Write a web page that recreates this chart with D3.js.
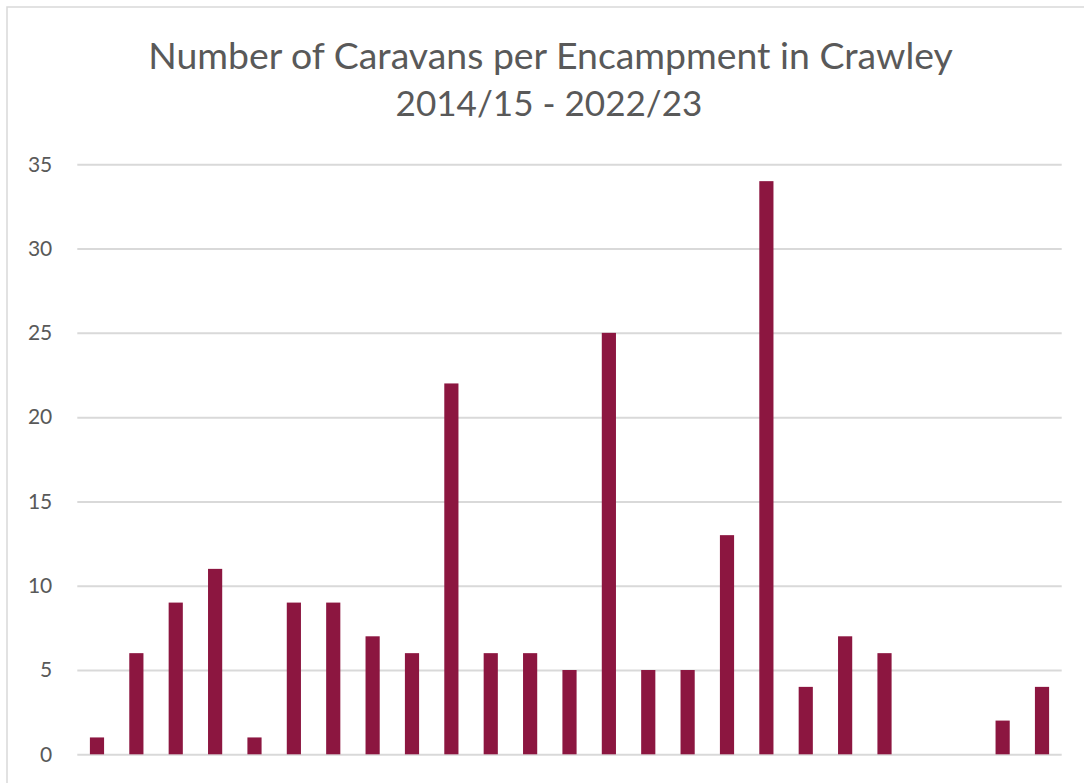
<!DOCTYPE html>
<html>
<head>
<meta charset="utf-8">
<script src="https://cdn.jsdelivr.net/npm/d3@7"></script>
<style>
  body { margin: 0; background: #fff; }
  svg { display: block; }
</style>
</head>
<body>
<div id="chart"></div>
<script>
// one bar per encampment, in order
let encampments = d3.range(1, 26).map(i => "E" + i);
let caravans = [1, 6, 9, 11, 1, 9, 9, 7, 6, 22, 6, 6, 5, 25, 5, 5, 13, 34, 4, 7, 6, 0, 0, 2, 4];
let yTicks = [0, 5, 10, 15, 20, 25, 30, 35];
let titleLines = ["Number of Caravans per Encampment in Crawley", "2014/15 - 2022/23"];

let width = 1084,
    height = 783,
    margin = {top: 164.3, right: 22.3, bottom: 28.7, left: 77.3};

let svg = d3.select("#chart")
    .append("svg")
    .attr("width", width)
    .attr("height", height);

// chart frame
svg.append("rect")
    .attr("x", 7).attr("y", 7)
    .attr("width", width + 20).attr("height", height + 20)
    .attr("fill", "none")
    .attr("stroke", "#d9d9d9")
    .attr("stroke-width", 1.5);

let x = d3.scaleBand()
    .domain(encampments)
    .range([margin.left, width - margin.right])
    .paddingInner(0.64)
    .paddingOuter(0.32);

let y = d3.scaleLinear()
    .domain([0, 35])
    .range([height - margin.bottom, margin.top]);

// gridlines + labels
let yAxis = d3.axisLeft(y)
    .tickValues(yTicks)
    .tickSize(-(width - margin.left - margin.right))
    .tickPadding(25);

let ga = svg.append("g")
    .attr("transform", "translate(" + margin.left + ",0)")
    .call(yAxis);
ga.select(".domain").remove();
ga.selectAll(".tick line")
    .attr("stroke", "#d9d9d9")
    .attr("stroke-width", 2);
ga.selectAll(".tick text")
    .attr("fill", "#595959")
    .style("font-family", "Lato, 'Open Sans', sans-serif")
    .style("font-size", "21px");

svg.append("g")
    .selectAll("rect")
    .data(caravans)
    .enter().append("rect")
    .attr("x", (d, i) => x(encampments[i]))
    .attr("y", d => y(d))
    .attr("width", x.bandwidth())
    .attr("height", d => y(0) - y(d))
    .attr("fill", "#8c1640");

// title, sized to match the original width
let targets = [805, 307];
let baselines = [69, 116];
titleLines.forEach((t, i) => {
    let tx = svg.append("text")
        .attr("x", i == 0 ? 550.5 : 549)
        .attr("y", baselines[i])
        .attr("text-anchor", "middle")
        .attr("fill", "#595959")
        .style("font-family", "Lato, 'Open Sans', sans-serif")
        .style("font-size", "34px")
        .text(t);
    let w = tx.node().getComputedTextLength();
    tx.style("font-size", (34 * targets[i] / w) + "px");
});
</script>
</body>
</html>
